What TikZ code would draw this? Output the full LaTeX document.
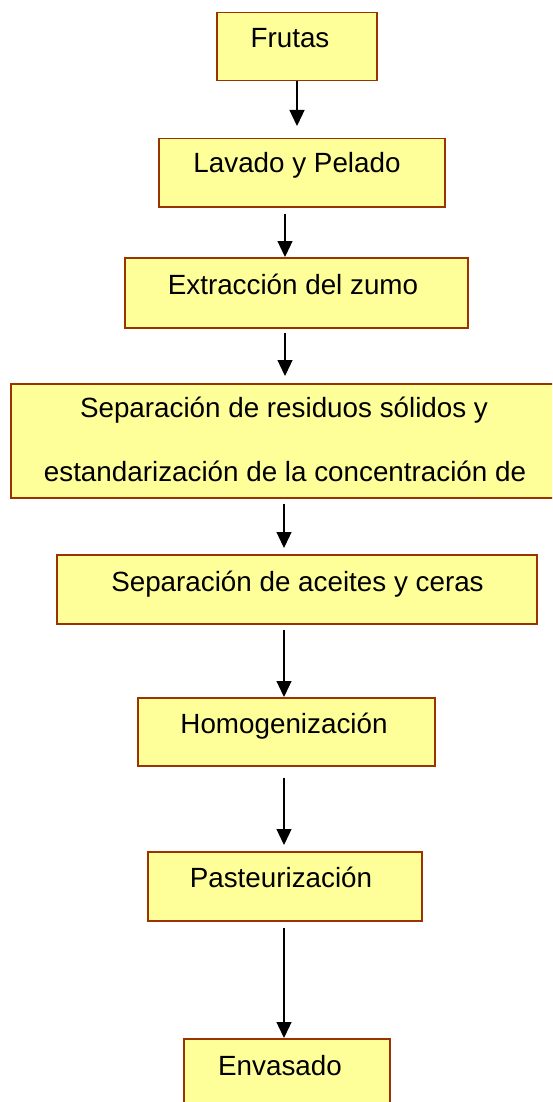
\documentclass[tikz,border=0pt]{standalone}
\usepackage{fontspec}
\setmainfont{Liberation Sans}
\usetikzlibrary{arrows.meta}
\definecolor{boxfill}{HTML}{FFFF99}
\definecolor{boxline}{HTML}{993300}
\tikzset{
  stepbox/.style={draw=boxline, fill=boxfill, line width=1.5pt, rectangle, inner sep=0pt, anchor=north west},
  lbl/.style={anchor=base, inner sep=0pt, font=\fontsize{27.8}{33}\selectfont},
  arr/.style={line width=1.3pt, -{Triangle[length=16pt,width=15pt]}}
}
\begin{document}
\begin{tikzpicture}[x=1pt,y=-1pt]
\useasboundingbox (0,0) rectangle (552,1102);
\clip (0,0) rectangle (552,1102);
% boxes
\node[stepbox, minimum width=160pt, minimum height=68pt] (b1) at (216,12) {};
\node[stepbox, minimum width=286pt, minimum height=68pt] (b2) at (158,138) {};
\node[stepbox, minimum width=343pt, minimum height=70pt] (b3) at (124,257) {};
\node[stepbox, minimum width=556pt, minimum height=114pt] (b4) at (10,383) {};
\node[stepbox, minimum width=480pt, minimum height=69pt] (b5) at (56,554) {};
\node[stepbox, minimum width=297pt, minimum height=68pt] (b6) at (137,697) {};
\node[stepbox, minimum width=274pt, minimum height=69pt] (b7) at (147,851) {};
\node[stepbox, minimum width=206pt, minimum height=80pt] (b8) at (183,1038) {};
% texts
\node[lbl] (t1) at (290,48) {Frutas};
\node[lbl] (t2) at (297,173) {Lavado y Pelado};
\node[lbl] (t3) at (293,294) {Extracción del zumo};
\node[lbl] (t4a) at (284,417) {Separación de residuos sólidos y};
\node[lbl] (t4b) at (285,481) {estandarización de la concentración de};
\node[lbl] (t5) at (297.5,591) {Separación de aceites y ceras};
\node[lbl] (t6) at (284,733) {Homogenización};
\node[lbl] (t7) at (281,887) {Pasteurización};
\node[lbl] (t8) at (280,1075) {Envasado};
% arrow columns
\coordinate (xa) at (297,0);
\coordinate (xb) at (285,0);
\coordinate (xc) at (284,0);
% arrows
\draw[arr] (b1.south -| xa) -- ([yshift=12pt]b2.north -| xa);
\draw[arr] ([yshift=-6pt]b2.south -| xb) -- (b3.north -| xb);
\draw[arr] ([yshift=-4pt]b3.south -| xb) -- ([yshift=7pt]b4.north -| xb);
\draw[arr] ([yshift=-5pt]b4.south -| xc) -- ([yshift=6pt]b5.north -| xc);
\draw[arr] ([yshift=-5pt]b5.south -| xc) -- (b6.north -| xc);
\draw[arr] ([yshift=-11pt]b6.south -| xc) -- ([yshift=6pt]b7.north -| xc);
\draw[arr] ([yshift=-6pt]b7.south -| xc) -- (b8.north -| xc);
\end{tikzpicture}
\end{document}
